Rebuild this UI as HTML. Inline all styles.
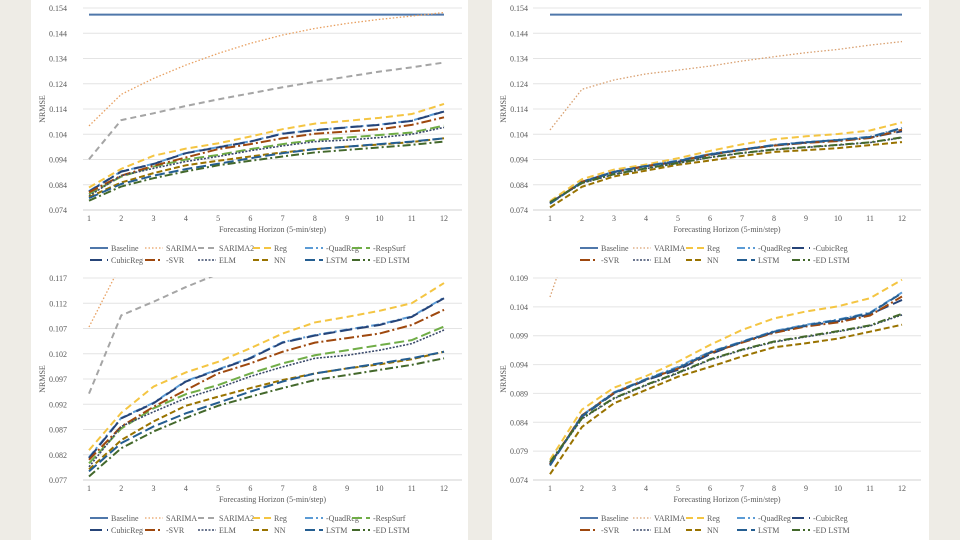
<!DOCTYPE html>
<html><head><meta charset="utf-8"><style>
html,body{margin:0;padding:0;width:960px;height:540px;overflow:hidden;background:#eeece6;font-family:"Liberation Serif",serif}
.panel{position:absolute;top:0;height:540px;background:#fff}
svg{position:absolute;left:0;top:0}
text{font-family:"Liberation Serif",serif;fill:#595959;font-size:8px}
</style></head><body>
<div class="panel" style="left:31px;width:437px"></div>
<div class="panel" style="left:492px;width:437px"></div>
<svg id="s" width="960" height="540"></svg>
<script>
const categories=[1,2,3,4,5,6,7,8,9,10,11,12];
const leftNames=["Baseline","SARIMA","SARIMA2","Reg","QuadReg","RespSurf","CubicReg","SVR","ELM","NN","LSTM","ED LSTM"];
const leftLabels=["Baseline","SARIMA","SARIMA2","Reg","-QuadReg","-RespSurf","CubicReg","-SVR","ELM","NN","LSTM","-ED LSTM"];
const L_Baseline=[0.1514,0.1514,0.1514,0.1514,0.1514,0.1514,0.1514,0.1514,0.1514,0.1514,0.1514,0.1514];
const L_SARIMA=[0.1073,0.1198,0.1261,0.1314,0.136,0.14,0.1433,0.1459,0.1479,0.1495,0.1508,0.1522];
const L_SARIMA2=[0.0941,0.1096,0.1123,0.1152,0.1178,0.1202,0.1226,0.1248,0.1268,0.1288,0.1305,0.1324];
const L_Reg=[0.0829,0.0903,0.0955,0.0983,0.1004,0.1031,0.106,0.1082,0.1093,0.1105,0.112,0.116];
const L_QuadReg=[0.0815,0.0893,0.0923,0.0966,0.0989,0.1012,0.1043,0.1057,0.1068,0.1078,0.1094,0.1131];
const L_RespSurf=[0.0803,0.0872,0.0912,0.094,0.0958,0.0981,0.1001,0.1017,0.1027,0.1037,0.1047,0.1074];
const L_CubicReg=[0.0813,0.0892,0.0922,0.0965,0.0988,0.1011,0.1042,0.1056,0.1067,0.1077,0.1093,0.113];
const L_SVR=[0.081,0.0876,0.0915,0.0948,0.0981,0.1001,0.1024,0.1042,0.1051,0.106,0.1077,0.1107];
const L_ELM=[0.0796,0.0876,0.0905,0.0932,0.0952,0.0975,0.0994,0.1011,0.1017,0.1027,0.104,0.1067];
const L_NN=[0.0791,0.0849,0.0886,0.0917,0.0935,0.0952,0.0968,0.0981,0.0991,0.0999,0.1009,0.1024];
const L_LSTM=[0.0787,0.0843,0.0876,0.0902,0.0923,0.0945,0.0965,0.0981,0.0991,0.1001,0.1011,0.1024];
const L_EDLSTM=[0.0777,0.0833,0.0866,0.0893,0.0917,0.0935,0.0952,0.0968,0.0978,0.0988,0.0998,0.1011];
const rightNames=["Baseline","VARIMA","Reg","QuadReg","CubicReg","SVR","ELM","NN","LSTM","ED LSTM"];
const rightLabels=["Baseline","VARIMA","Reg","-QuadReg","-CubicReg","-SVR","ELM","NN","LSTM","-ED LSTM"];
const R_Baseline=[0.1514,0.1514,0.1514,0.1514,0.1514,0.1514,0.1514,0.1514,0.1514,0.1514,0.1514,0.1514];
const R_VARIMA=[0.1057,0.1218,0.1255,0.1279,0.1294,0.131,0.133,0.1347,0.1363,0.1376,0.1393,0.1407];
const R_Reg=[0.0775,0.0862,0.09,0.092,0.0945,0.0974,0.1,0.102,0.1032,0.1041,0.1055,0.1087];
const R_QuadReg=[0.0766,0.0852,0.0892,0.0915,0.0936,0.0962,0.098,0.0998,0.1009,0.1018,0.103,0.1065];
const R_CubicReg=[0.0768,0.085,0.089,0.0913,0.0931,0.0958,0.0979,0.0996,0.1007,0.1015,0.1027,0.1052];
const R_SVR=[0.0767,0.0852,0.0891,0.0914,0.0933,0.096,0.0978,0.0995,0.1006,0.1013,0.1025,0.1058];
const R_ELM=[0.0769,0.0846,0.0881,0.0904,0.0925,0.0948,0.0965,0.0979,0.0988,0.0997,0.1007,0.1026];
const R_NN=[0.075,0.0832,0.0873,0.0896,0.0919,0.0936,0.0954,0.097,0.0977,0.0985,0.0997,0.1009];
const R_LSTM=[0.0765,0.0851,0.0891,0.0914,0.0934,0.0961,0.0979,0.0997,0.1008,0.1017,0.1029,0.1064];
const R_EDLSTM=[0.0771,0.0847,0.0882,0.0905,0.0926,0.0949,0.0966,0.098,0.0989,0.0998,0.1008,0.1028];
const ticksTop=["0.074","0.084","0.094","0.104","0.114","0.124","0.134","0.144","0.154"];
const ticksBL=["0.077","0.082","0.087","0.092","0.097","0.102","0.107","0.112","0.117"];
const ticksBR=["0.074","0.079","0.084","0.089","0.094","0.099","0.104","0.109"];

const leftSeries=[L_Baseline,L_SARIMA,L_SARIMA2,L_Reg,L_QuadReg,L_RespSurf,L_CubicReg,L_SVR,L_ELM,L_NN,L_LSTM,L_EDLSTM];
const rightSeries=[R_Baseline,R_VARIMA,R_Reg,R_QuadReg,R_CubicReg,R_SVR,R_ELM,R_NN,R_LSTM,R_EDLSTM];
const ST={"Baseline":["#4f77aa","none",2],"SARIMA":["#e8a061","1.5,2",1.3],"VARIMA":["#d9a070","1.5,2",1.3],"SARIMA2":["#a5a5a5","6,4",2],
"Reg":["#f4c542","7,4",2],"QuadReg":["#5b9bd5","8,3,2,3",2],"RespSurf":["#70ad47","10,4",2],"CubicReg":["#264478","12,5",2],
"SVR":["#9e480e","10,3,2,3",2],"ELM":["#3b4a6b","2,1.5",1.6],"NN":["#997300","6,3",2],"LSTM":["#255e91","10,4",2],"ED LSTM":["#43682b","8,3,2,3",2]};
const NS="http://www.w3.org/2000/svg";
const svg=document.getElementById('s');
function mk(t,a,p){const e=document.createElementNS(NS,t);for(const k in a)e.setAttribute(k,a[k]);(p||svg).appendChild(e);return e;}

function chart(id,top,gx0,gx1,x1,x12,labX,titleX,ticks,names,labels,series,legCols){
  const y0=top+210,yTop=top+8,n=ticks.length-1;
  const vmin=+ticks[0],vmax=+ticks[n];
  const ys=v=>y0-(v-vmin)/(vmax-vmin)*(y0-yTop);
  const xs=c=>x1+(c-1)*(x12-x1)/11;
  const g=mk('g',{});
  
  
  ticks.forEach((t,i)=>{
    const y=ys(+t);
    const l=mk('line',{x1:gx0,x2:gx1,y1:y,y2:y,stroke:i==0?'#d0d0d0':'#e4e4e4','stroke-width':1},g);
    
    
    const tx=mk('text',{x:labX,y:y+3,'text-anchor':'end'},g);tx.textContent=t;
    
    
  });
  categories.forEach(c=>{
    const tx=mk('text',{x:xs(c),y:top+221,'text-anchor':'middle'},g);tx.textContent=c;
    
    
  });
  const xt=mk('text',{x:(gx0+gx1)/2,y:top+232,'text-anchor':'middle','font-size':'9'},g);
  xt.textContent="Forecasting Horizon (5-min/step)";
  
  
  const yt=mk('text',{x:0,y:0,'text-anchor':'middle',transform:`translate(${titleX},${(y0+yTop)/2}) rotate(-90)`},g);
  yt.textContent="NRMSE";
  
  
  const cp=mk('clipPath',{id:'c'+id},g);mk('rect',{x:gx0,y:yTop-1,width:gx1-gx0,height:y0-yTop+2},cp);
  const pg=mk('g',{'clip-path':`url(#c${id})`},g);
  series.forEach((s,i)=>{
    const st=ST[names[i]];
    const p=mk('polyline',{points:s.map((v,j)=>xs(categories[j])+','+ys(v)).join(' '),fill:'none',stroke:st[0],'stroke-width':st[2],'stroke-dasharray':st[1]},pg);
    
    
  });
  names.forEach((nm,i)=>{
    const st=ST[nm],cols=legCols.length,c=i%cols,r=Math.floor(i/cols);
    const lx=legCols[c],ly=top+248+r*12;
    const e=mk('g',{},g);
    
    
    mk('line',{x1:lx,x2:lx+18,y1:ly,y2:ly,stroke:st[0],'stroke-width':st[2],'stroke-dasharray':st[1]},e);
    const t=mk('text',{x:lx+21,y:ly+3},e);t.textContent=labels[i];
  });
}
const LC=[90,145,198,253,305,352],RC=[580,633,686,737,792];
chart('chart-top-left',0,83,462,89,444,67,45,ticksTop,leftNames,leftLabels,leftSeries,LC);
chart('chart-bottom-left',270,83,462,89,444,67,45,ticksBL,leftNames,leftLabels,leftSeries,LC);
chart('chart-top-right',0,533,921,550,902,528,506,ticksTop,rightNames,rightLabels,rightSeries,RC);
chart('chart-bottom-right',270,533,921,550,902,528,506,ticksBR,rightNames,rightLabels,rightSeries,RC);
</script>
</body></html>
